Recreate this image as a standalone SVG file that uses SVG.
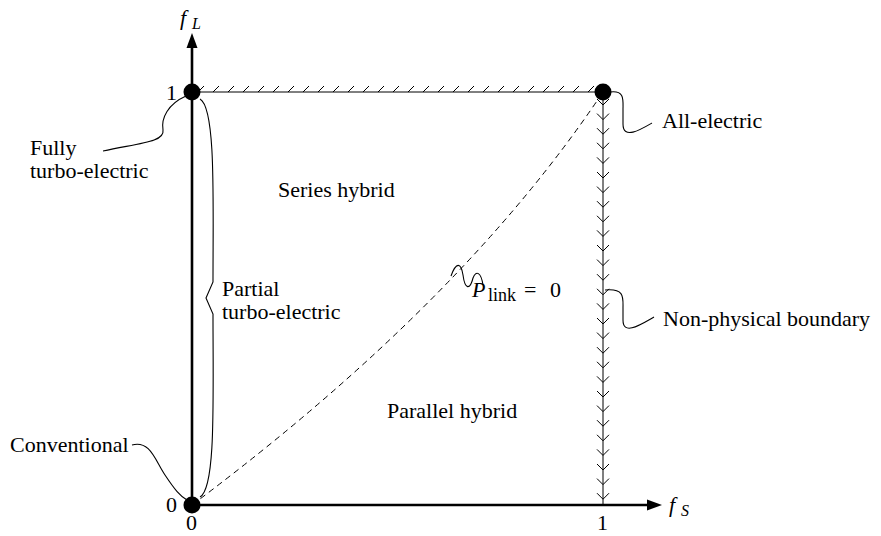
<svg xmlns="http://www.w3.org/2000/svg" width="881" height="536" viewBox="0 0 881 536">
<style>
.t{font-family:"Liberation Serif",serif;font-size:22px;fill:#000}
.i{font-style:italic}
.sub{font-size:16px}
.ax{stroke:#000;stroke-width:2.6;fill:none}
.thin{stroke:#000;stroke-width:1;fill:none}
.lead{stroke:#000;stroke-width:1.1;fill:none}
.dash{stroke:#000;stroke-width:1;fill:none;stroke-dasharray:6,4.5}
</style>
<rect width="881" height="536" fill="#fff"/>
<g id="connectors">
<path class="ax" d="M192,505V46"/>
<polygon points="192,33 186.5,48 197.5,48" fill="#000"/>
<path class="ax" d="M192,505H649"/>
<polygon points="662,505 647,499.5 647,510.5" fill="#000"/>
<g id="top-boundary">
<path class="thin" d="M192,92H603"/>
<path class="thin" d="M198,92l6,-6M213,92l6,-6M228,92l6,-6M243,92l6,-6M258,92l6,-6M273,92l6,-6M288,92l6,-6M303,92l6,-6M318,92l6,-6M333,92l6,-6M348,92l6,-6M363,92l6,-6M378,92l6,-6M393,92l6,-6M408,92l6,-6M423,92l6,-6M438,92l6,-6M453,92l6,-6M468,92l6,-6M483,92l6,-6M498,92l6,-6M513,92l6,-6M528,92l6,-6M543,92l6,-6M558,92l6,-6M573,92l6,-6M588,92l6,-6"/>
</g>
<g id="right-boundary">
<path class="thin" d="M603,92V505"/>
<path class="thin" d="M597,99l6,6l6,-6M597,113.6l6,6l6,-6M597,128.2l6,6l6,-6M597,142.8l6,6l6,-6M597,157.4l6,6l6,-6M597,172l6,6l6,-6M597,186.6l6,6l6,-6M597,201.2l6,6l6,-6M597,215.8l6,6l6,-6M597,230.4l6,6l6,-6M597,245l6,6l6,-6M597,259.6l6,6l6,-6M597,274.2l6,6l6,-6M597,288.8l6,6l6,-6M597,303.4l6,6l6,-6M597,318l6,6l6,-6M597,332.6l6,6l6,-6M597,347.2l6,6l6,-6M597,361.8l6,6l6,-6M597,376.4l6,6l6,-6M597,391l6,6l6,-6M597,405.6l6,6l6,-6M597,420.2l6,6l6,-6M597,434.8l6,6l6,-6M597,449.4l6,6l6,-6M597,464l6,6l6,-6M597,478.6l6,6l6,-6M597,493.2l6,6l6,-6"/>
</g>
<path id="plink-curve" class="dash" d="M192,505Q463,302 603,92"/>
<path id="brace" class="lead" d="M200,99C216,108 213,200 213,282L206,298L213,314C213,400 216,488 200,497"/>
<path class="lead" d="M103,151C140,143 165,142 163,130C161,118 168,104 186,96"/>
<path class="lead" d="M132,445C150,440 155,460 165,475C175,490 180,496 187,500"/>
<path class="lead" d="M610,92C625,90 623,100 623,110L623,124C623,140 640,130 652,123"/>
<path class="lead" d="M605,290C625,288 623,298 623,308L623,320C623,336 640,325 654,317"/>
<path class="lead" d="M451,276C456,262 461,262 463,275C465,290 470,290 473,278C476,270 481,272 483,285"/>
</g>
<g id="node-fully-turbo"><circle cx="192" cy="92" r="8.5" fill="#000"/></g>
<g id="node-all-electric"><circle cx="603" cy="92" r="8.5" fill="#000"/></g>
<g id="node-conventional"><circle cx="192" cy="505" r="8.5" fill="#000"/></g>
<g id="labels">
<text class="t i" x="180" y="25">f<tspan class="sub" x="192" y="29">L</tspan></text>
<text class="t i" x="669" y="512">f<tspan class="sub" x="681" y="516">S</tspan></text>
<text class="t" x="166" y="100">1</text>
<text class="t" x="166" y="512">0</text>
<text class="t" x="186" y="530">0</text>
<text class="t" x="597" y="530">1</text>
<text class="t" x="278" y="197">Series hybrid</text>
<text class="t" x="387" y="418">Parallel hybrid</text>
<text class="t" x="222" y="296">Partial</text>
<text class="t" x="222" y="319">turbo-electric</text>
<text class="t" x="30" y="155">Fully</text>
<text class="t" x="30" y="178">turbo-electric</text>
<text class="t" x="10" y="452">Conventional</text>
<text class="t" x="662" y="128">All-electric</text>
<text class="t" x="663" y="326">Non-physical boundary</text>
<text class="t"><tspan class="i" x="472" y="297">P</tspan><tspan x="488" y="301" style="font-size:18px">link</tspan><tspan x="524" y="297">=</tspan><tspan x="550" y="297">0</tspan></text>
</g>
</svg>
